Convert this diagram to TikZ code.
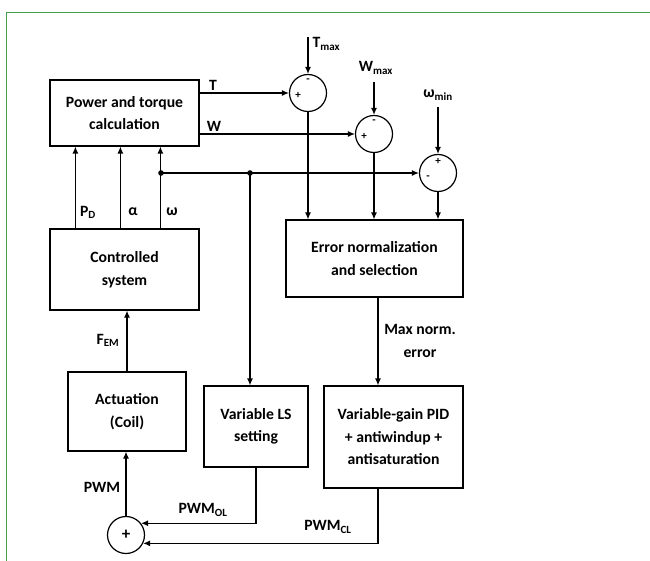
\documentclass[tikz,border=0pt]{standalone}
\usepackage{fontspec}
\setmainfont{Carlito}
\usetikzlibrary{arrows.meta}
\definecolor{framegreen}{RGB}{70,160,70}

\begin{document}
\begin{tikzpicture}[x=1pt,y=-1pt,line width=1.2pt,
  font=\fontsize{15.7}{22.5}\selectfont\bfseries,
  >={Latex[length=7pt,width=6pt]},
  blk/.style={draw,align=center,inner sep=0pt},
  sumc/.style={draw,circle,minimum size=37pt,inner sep=0pt},
  sgn/.style={inner sep=0pt,font=\fontsize{11}{11}\selectfont\bfseries},
  lbl/.style={inner sep=0pt,align=center}]
  \useasboundingbox (0,0) rectangle (650,561);
  \draw[framegreen,line width=1pt] (650,13) -- (6,13) -- (6,561);

  \node[blk,minimum width=149pt,minimum height=66pt] (power) at (124.5,113) {Power and torque\\calculation};
  \node[blk,minimum width=149pt,minimum height=81pt] (ctrl) at (124.5,269.5) {Controlled\\system};
  \node[blk,minimum width=177pt,minimum height=77pt] (err) at (374.5,258.5) {Error normalization\\and selection};
  \node[blk,minimum width=118pt,minimum height=79pt] (act) at (127,411.5) {Actuation\\(Coil)};
  \node[blk,minimum width=104pt,minimum height=81pt] (ls) at (256,426.5) {Variable LS\\setting};
  \node[blk,minimum width=139pt,minimum height=102pt] (pid) at (393.5,437) {Variable-gain PID\\+ antiwindup +\\antisaturation};

  \node[sumc] (c1) at (308,93) {};
  \node[sumc] (c2) at (374,134) {};
  \node[sumc] (c3) at (438,173) {};
  \node[sumc,font=\fontsize{17}{17}\selectfont\bfseries] (sum) at (126,535) {+};
  \node[sgn] (c1m) at (308,81) {-};
  \node[sgn] (c1p) at (298,95) {+};
  \node[sgn] (c2m) at (374,122) {-};
  \node[sgn] (c2p) at (364,136) {+};
  \node[sgn] (c3p) at (438,161) {+};
  \node[sgn] (c3m) at (428,178) {-};

  \node[lbl] (tl) at (213,85) {T};
  \node[lbl] (wl) at (214,126) {W};
  \node[lbl,anchor=west] (tmaxl) at (312,44) {T\textsubscript{max}};
  \node[lbl] (wmaxl) at (376,68) {W\textsubscript{max}};
  \node[lbl] (wminl) at (438,95) {ω\textsubscript{min}};
  \node[lbl] (pdl) at (88,212) {P\textsubscript{D}};
  \node[lbl] (al) at (133,212) {α};
  \node[lbl] (wl2) at (172,212) {ω};
  \node[lbl] (feml) at (108,340) {F\textsubscript{EM}};
  \node[lbl] (maxl) at (420,341) {Max norm.\\error};
  \node[lbl] (pwml) at (102,487) {PWM};
  \node[lbl] (oll) at (203,510) {PWM\textsubscript{OL}};
  \node[lbl] (cll) at (328,527) {PWM\textsubscript{CL}};

  \coordinate (tmax) at (308,37);
  \coordinate (d1) at (161,173);
  \coordinate (d2) at (250,173);

  \draw[->] (power.east |- c1) -- (c1.west);
  \draw[->] (power.east |- c2) -- (c2.west);
  \draw[->] (tmax) -- (c1.north);
  \draw[->] ([yshift=-7pt]wmaxl.south -| c2) -- (c2.north);
  \draw[->] ([yshift=-6pt]wminl.south -| c3) -- (c3.north);
  \foreach \c in {c1,c2,c3}
    \draw[->] (\c.south) -- (\c.south |- err.north);
  \foreach \x in {26,71,111}
    \draw[->] ([xshift=\x pt]ctrl.north west) -- ([xshift=\x pt]power.south west);
  \draw[->] (d1) -- (c3.west);
  \fill (d1) circle (2.8pt) (d2) circle (2.8pt);
  \draw[->] (d2) -- (d2 |- ls.north);
  \draw[->] (act.north) -- (act.north |- ctrl.south);
  \draw[->] ([xshift=3.5pt]err.south) -- ([xshift=3.5pt]err.south |- pid.north);
  \draw[->] (sum.north) -- (sum.north |- act.south);
  \draw[->] (ls.south) |- (sum.38);
  \draw[->] ([xshift=-15.5pt]pid.south) |- (sum.-26);
\end{tikzpicture}
\end{document}
